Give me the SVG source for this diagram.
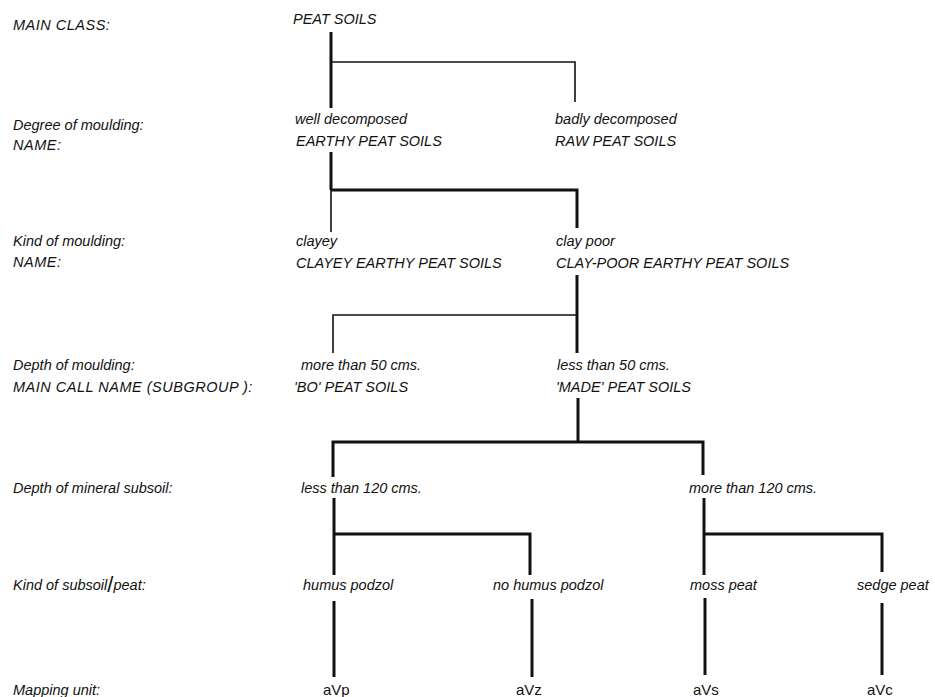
<svg xmlns="http://www.w3.org/2000/svg" width="935" height="697" viewBox="0 0 935 697">
<style>
text{font-family:"Liberation Sans",Arial,sans-serif;font-size:14.5px;font-style:italic;fill:#111}
.caps{letter-spacing:0.5px}
.unit{font-style:normal;font-size:15px}
.thick{stroke:#111;stroke-width:3;fill:none}
.thin{stroke:#111;stroke-width:1.6;fill:none}
</style>
<rect width="935" height="697" fill="#fff"/>
<g id="row-labels">
<text class="caps" x="13" y="30">MAIN CLASS:</text>
<text x="13" y="130">Degree of moulding:</text>
<text class="caps" x="13" y="150">NAME:</text>
<text x="13" y="246">Kind of moulding:</text>
<text class="caps" x="13" y="267">NAME:</text>
<text x="13" y="370">Depth of moulding:</text>
<text class="caps" x="13" y="392" letter-spacing="0.7">MAIN CALL NAME (SUBGROUP ):</text>
<text x="13" y="493">Depth of mineral subsoil:</text>
<text x="13" y="590">Kind of subsoil<tspan font-size="22" font-style="normal" dy="2">/</tspan><tspan dy="-2">peat:</tspan></text>
<text x="13" y="695">Mapping unit:</text>
</g>
<g id="connectors">
<line class="thick" x1="331" y1="32" x2="331" y2="108"/>
<polyline class="thin" points="331,62 575,62 575,102"/>
<line class="thick" x1="331" y1="152" x2="331" y2="190"/>
<polyline class="thick" points="331,190 577,190 577,228"/>
<line class="thin" x1="331" y1="190" x2="331" y2="232"/>
<line class="thick" x1="577" y1="275" x2="577" y2="353"/>
<polyline class="thin" points="577,315 333,315 333,353"/>
<line class="thick" x1="578" y1="398" x2="578" y2="442"/>
<polyline class="thick" points="333,477 333,442 703,442 703,475"/>
<line class="thick" x1="334" y1="498" x2="334" y2="575"/>
<polyline class="thick" points="334,534 530,534 530,575"/>
<line class="thick" x1="704" y1="498" x2="704" y2="575"/>
<polyline class="thick" points="704,534 882,534 882,572"/>
<line class="thick" x1="334" y1="601" x2="334" y2="677"/>
<line class="thick" x1="532" y1="599" x2="532" y2="677"/>
<line class="thick" x1="705" y1="598" x2="705" y2="675"/>
<line class="thick" x1="882" y1="603" x2="882" y2="675"/>
</g>
<g id="peat-soils"><text x="293" y="24">PEAT SOILS</text></g>
<g id="earthy"><text x="295" y="124">well decomposed</text><text x="296" y="146">EARTHY PEAT SOILS</text></g>
<g id="raw"><text x="555" y="124">badly decomposed</text><text x="555" y="146">RAW PEAT SOILS</text></g>
<g id="clayey"><text x="296" y="246">clayey</text><text x="296" y="268">CLAYEY EARTHY PEAT SOILS</text></g>
<g id="clay-poor"><text x="556" y="246">clay poor</text><text x="556" y="268">CLAY-POOR EARTHY PEAT SOILS</text></g>
<g id="bo"><text x="301" y="370">more than 50 cms.</text><text x="294" y="392">'BO' PEAT SOILS</text></g>
<g id="made"><text x="557" y="370">less than 50 cms.</text><text x="556" y="392">'MADE' PEAT SOILS</text></g>
<g id="less120"><text x="301" y="493">less than 120 cms.</text></g>
<g id="more120"><text x="689" y="493">more than 120 cms.</text></g>
<g id="humus"><text x="303" y="590">humus podzol</text></g>
<g id="nohumus"><text x="493" y="590">no humus podzol</text></g>
<g id="moss"><text x="690" y="590">moss peat</text></g>
<g id="sedge"><text x="857" y="590">sedge peat</text></g>
<g id="avp"><text class="unit" x="323" y="695">aVp</text></g>
<g id="avz"><text class="unit" x="516" y="695">aVz</text></g>
<g id="avs"><text class="unit" x="693" y="695">aVs</text></g>
<g id="avc"><text class="unit" x="867" y="695">aVc</text></g>
</svg>
